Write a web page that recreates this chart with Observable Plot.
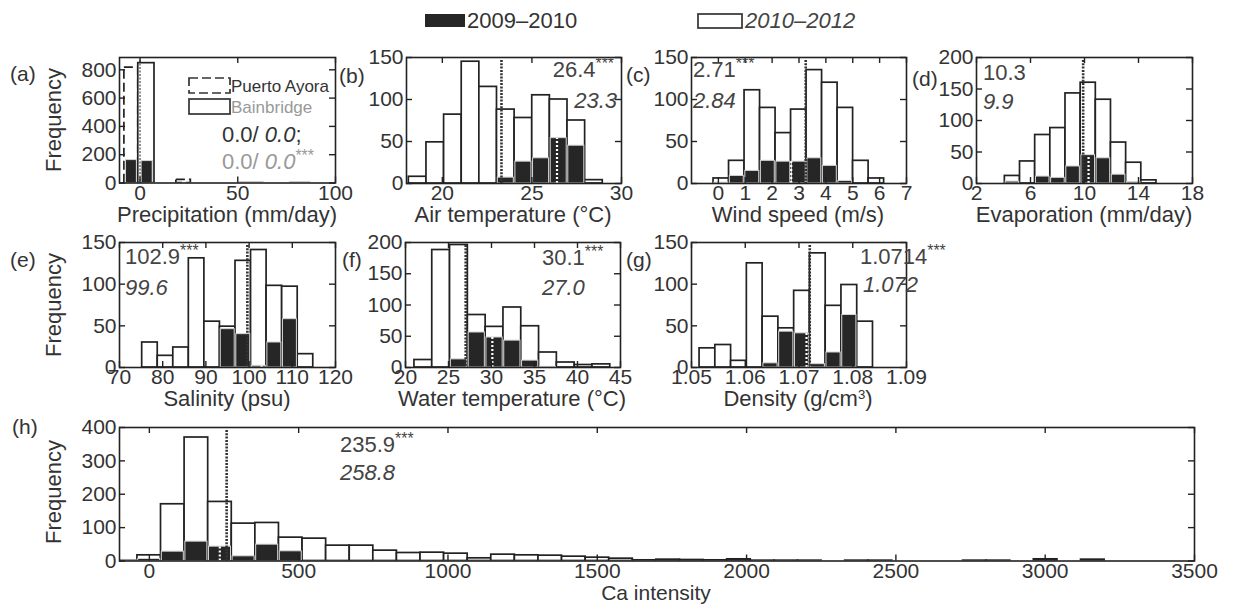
<!DOCTYPE html>
<html><head><meta charset="utf-8">
<script src="https://cdn.jsdelivr.net/npm/d3@7"></script>
<script src="https://cdn.jsdelivr.net/npm/@observablehq/plot@0.6"></script>
<style>
body{margin:0;background:#fff;font-family:"Liberation Sans",Arial,sans-serif;color:#333}
#wrap{position:relative;width:1236px;height:606px;overflow:hidden;background:#fff}
.t{position:absolute;white-space:nowrap;line-height:1}
.t sup{font-size:0.72em;vertical-align:0.5em;line-height:0}
</style></head><body><div id="wrap"></div><script>
// ---------------- DATA ----------------
const seriesNames = ["2009–2010", "2010–2012"];
const panelLetters = ["(a)", "(b)", "(c)", "(d)", "(e)", "(f)", "(g)", "(h)"];
const axisTitles = ["Precipitation (mm/day)", "Air temperature (°C)", "Wind speed (m/s)", "Evaporation (mm/day)",
  "Salinity (psu)", "Water temperature (°C)", "Density (g/cm<sup style='font-size:0.6em;vertical-align:0.5em'>3</sup>)", "Ca intensity"];
const stationNames = ["Puerto Ayora", "Bainbridge"];

// (a) precipitation
const precipAyoraLo = [-8.0, 18.6], precipAyoraHi = [-0.9, 26.0], precipAyoraCount = [816, 22];
const precipBainLo = [-0.9, 51, 77], precipBainHi = [7.4, 63, 87], precipBainCount = [847, 4, 4];
const precipFilledLo = [-7.6, 0.4], precipFilledHi = [-1.2, 6.9], precipFilledCount = [162, 155];
const precipMean = 0.0;
const precipTextAyora = ["0.0", "0.0"], precipTextBain = ["0.0", "0.0"];

// (b) air temperature
const airStart = 18.13, airWidth = 0.984;
const airOpen =   [8, 49, 82, 145, 115, 88, 78, 105, 100, 75, 4];
const airFilled = [0, 0, 0, 0, 0, 7, 26, 30, 54, 45, 0];
const airMeanFilled = 26.4, airMeanOpen = 23.3;

// (c) wind speed
const windStart = -0.18, windWidth = 0.577;
const windOpen =   [6, 27, 111, 90, 60, 88, 135, 120, 90, 27, 6];
const windFilled = [1, 9, 15, 27, 26, 26, 30, 21, 3, 0, 0];
const windMeanFilled = 2.71, windMeanOpen = 3.25;
const windText = ["2.71", "2.84"];

// (d) evaporation
const evapStart = 4.1, evapWidth = 1.123;
const evapOpen =   [12, 35, 77, 88, 143, 160, 133, 65, 33, 5];
const evapFilled = [3, 0, 11, 9, 27, 45, 40, 14, 2, 0];
const evapMeanFilled = 10.3, evapMeanOpen = 9.9;

// (e) salinity
const salStart = 75.25, salWidth = 3.6;
const salOpen =   [30, 14, 24, 131, 55, 49, 128, 141, 98, 97, 16];
const salFilled = [0, 0, 0, 0, 0, 46, 40, 2, 30, 58, 0];
const salMeanFilled = 102.9, salMeanOpen = 99.6;

// (f) water temperature
const wtStart = 21.04, wtWidth = 2.07;
const wtOpen =   [12, 188, 196, 84, 65, 96, 66, 24, 8, 4, 5];
const wtFilled = [0, 0, 13, 56, 48, 43, 11, 1, 0, 0, 0];
const wtMeanFilled = 30.1, wtMeanOpen = 27.0;

// (g) density
const denStart = 1.0515, denWidth = 0.002933;
const denOpen =   [23, 27, 8, 125, 61, 47, 92, 137, 74, 99, 55];
const denFilled = [0, 0, 0, 0, 5, 43, 41, 4, 18, 63, 0];
const denMeanFilled = 1.0714, denMeanOpen = 1.072;

// (h) Ca intensity
const caStart = -119, caWidth = 79;
const caOpen = [2, 17, 170, 370, 177, 112, 114, 70, 67, 46, 46, 31, 24, 25, 22, 8, 19, 17, 16, 13, 10, 7, 2, 4, 3, 2, 5, 1, 1, 1, 0, 1, 1, 0, 0, 0, 1, 1, 0, 5, 0, 4, 0, 0, 0, 0];
const caFilled = [2, 6, 28, 58, 43, 14, 49, 29];
const caMeanFilled = 235.9, caMeanOpen = 258.8;

// tick values
const ticksA = {x: [0, 50, 100], y: [0, 200, 400, 600, 800]};
const ticksB = {x: [20, 25, 30], y: [0, 50, 100, 150]};
const ticksC = {x: [0, 1, 2, 3, 4, 5, 6, 7], y: [0, 50, 100, 150]};
const ticksD = {x: [2, 6, 10, 14, 18], y: [0, 50, 100, 150, 200]};
const ticksE = {x: [70, 80, 90, 100, 110, 120], y: [0, 50, 100, 150]};
const ticksF = {x: [20, 25, 30, 35, 40, 45], y: [0, 50, 100, 150, 200]};
const ticksG = {x: [1.05, 1.06, 1.07, 1.08, 1.09], y: [0, 50, 100, 150]};
const ticksH = {x: [0, 500, 1000, 1500, 2000, 2500, 3000, 3500], y: [0, 100, 200, 300, 400]};

// ---------------- DRAWING ----------------
const FONT = '"Liberation Sans", Arial, sans-serif';
const INK = "#222", TXT = "#333";
const W = document.getElementById("wrap");

function txt(html, x, y, {anchor = "start", size = 21, color = TXT, italic = false, rotate = 0} = {}) {
  const d = document.createElement("div");
  d.className = "t";
  d.innerHTML = html;
  d.style.fontSize = size + "px";
  d.style.color = color;
  if (italic) d.style.fontStyle = "italic";
  d.style.left = x + "px";
  d.style.top = y + "px";
  const tx = anchor === "start" ? "0" : anchor === "end" ? "-100%" : "-50%";
  d.style.transform = `translate(${tx}, -50%)` + (rotate ? ` rotate(${rotate}deg)` : "");
  W.appendChild(d);
}
function swatch(x, y, w, h, fill, stroke, dash) {
  const ns = "http://www.w3.org/2000/svg";
  const s = document.createElementNS(ns, "svg");
  s.setAttribute("width", w + 4); s.setAttribute("height", h + 4);
  Object.assign(s.style, {position: "absolute", left: (x - 2) + "px", top: (y - 2) + "px"});
  const r = document.createElementNS(ns, "rect");
  r.setAttribute("x", 2); r.setAttribute("y", 2); r.setAttribute("width", w); r.setAttribute("height", h);
  r.setAttribute("fill", fill);
  if (stroke) { r.setAttribute("stroke", stroke); r.setAttribute("stroke-width", 1.7); }
  if (dash) r.setAttribute("stroke-dasharray", dash);
  s.appendChild(r);
  W.appendChild(s);
}
function bins(start, width, counts) {
  return counts.map((c, i) => ({x1: start + i * width, x2: start + (i + 1) * width, y1: 0, y2: c})).filter(d => d.y2 > 0);
}
function loHi(lo, hi, counts) {
  return counts.map((c, i) => ({x1: lo[i], x2: hi[i], y1: 0, y2: c}));
}
const openStyle = {x1: "x1", x2: "x2", y1: "y1", y2: "y2", fill: "white", stroke: INK, strokeWidth: 1.7, clip: true};
const fillStyle = {x1: "x1", x2: "x2", y1: "y1", y2: "y2", fill: "#262626", stroke: "#d4d4d4", strokeWidth: 1, insetLeft: 0.8, insetRight: 0.8, clip: true};

function histMarks(start, width, open, filled, meanFilled, meanOpen) {
  const i = Math.floor((meanFilled - start) / width);
  const top = filled[i] || 0;
  const marks = [
    Plot.rect(bins(start, width, open), openStyle),
    Plot.rect(bins(start, width, filled), fillStyle),
    Plot.ruleX([meanOpen], {stroke: "#333", strokeWidth: 2.6, strokeDasharray: "2,1.3", insetTop: 3})
  ];
  if (top > 0) marks.push(Plot.ruleX([{x: meanFilled, y1: 0, y2: top}], {x: "x", y1: "y1", y2: "y2", stroke: "white", strokeWidth: 2.2, strokeDasharray: "2,2"}));
  return marks;
}

const fmt = d => String(d);
function panel(L, R, T, B, xDomain, yDomain, ticks, marks, xFmt = fmt) {
  const mL = 50, mR = 10, mT = 10, mB = 30;
  const fw = R - L, fh = B - T, tk = 6;
  const svg = Plot.plot({
    width: fw + mL + mR, height: fh + mT + mB,
    marginLeft: mL, marginRight: mR, marginTop: mT, marginBottom: mB,
    x: {domain: xDomain}, y: {domain: yDomain},
    style: {overflow: "visible", fontFamily: FONT, fontSize: "21px", color: TXT, background: "transparent"},
    marks: [
      ...marks,
      Plot.frame({stroke: INK, strokeWidth: 1.6}),
      // inward tick marks on all four sides
      Plot.tickX(ticks.x, {stroke: INK, strokeWidth: 1.4, insetTop: fh - tk}),
      Plot.tickX(ticks.x, {stroke: INK, strokeWidth: 1.4, insetBottom: fh - tk}),
      Plot.tickY(ticks.y, {stroke: INK, strokeWidth: 1.4, insetRight: fw - tk}),
      Plot.tickY(ticks.y, {stroke: INK, strokeWidth: 1.4, insetLeft: fw - tk}),
      Plot.axisX({ticks: ticks.x, anchor: "bottom", tickSize: 0, tickPadding: 2, tickFormat: xFmt, label: null, fontSize: 21, fill: TXT}),
      Plot.axisY({ticks: ticks.y, anchor: "left", tickSize: 0, tickPadding: 3, tickFormat: fmt, label: null, fontSize: 21, fill: TXT})
    ]
  });
  svg.style.position = "absolute";
  svg.style.left = (L - mL) + "px";
  svg.style.top = (T - mT) + "px";
  W.appendChild(svg);
}

// (a)
panel(119, 335, 57, 182.5, [-10.5, 100], [0, 887], ticksA, [
  Plot.rect(loHi(precipAyoraLo, precipAyoraHi, precipAyoraCount), {...openStyle, strokeDasharray: "9,4"}),
  Plot.rect(loHi(precipBainLo, precipBainHi, precipBainCount).slice(0, 1), openStyle),
  Plot.rect(loHi(precipBainLo, precipBainHi, precipBainCount).slice(1), {...openStyle, stroke: "#c8c8c8"}),
  Plot.rect(loHi(precipFilledLo, precipFilledHi, precipFilledCount), fillStyle),
  Plot.ruleX([precipMean], {stroke: "#888", strokeWidth: 1.8, strokeDasharray: "2,1.5", insetTop: 3})
]);
// (b)
panel(406, 621, 57, 183, [18, 30], [0, 150], ticksB, histMarks(airStart, airWidth, airOpen, airFilled, airMeanFilled, airMeanOpen));
// (c)
panel(691, 906, 57, 183, [-1, 7], [0, 150], ticksC, histMarks(windStart, windWidth, windOpen, windFilled, windMeanFilled, windMeanOpen));
// (d)
panel(976, 1192, 57, 183, [2, 18], [0, 200], ticksD, histMarks(evapStart, evapWidth, evapOpen, evapFilled, evapMeanFilled, evapMeanOpen));
// (e)
panel(119, 335, 242, 367, [70, 120], [0, 150], ticksE, histMarks(salStart, salWidth, salOpen, salFilled, salMeanFilled, salMeanOpen));
// (f)
panel(405, 620, 242, 367, [20, 45], [0, 200], ticksF, histMarks(wtStart, wtWidth, wtOpen, wtFilled, wtMeanFilled, wtMeanOpen));
// (g)
panel(691, 906, 242, 367, [1.05, 1.09], [0, 150], ticksG, histMarks(denStart, denWidth, denOpen, denFilled, denMeanFilled, denMeanOpen), d3.format(".2f"));
// (h)
panel(119, 1194, 427, 560.5, [-100, 3500], [0, 400], ticksH, histMarks(caStart, caWidth, caOpen, caFilled, caMeanFilled, caMeanOpen));

// ---------- text ----------
const f1 = v => v.toFixed(1);
const star = "<sup>***</sup>";
// top legend
swatch(425, 14, 40, 13, "#262626");
txt(seriesNames[0], 467, 21, {size: 22});
swatch(698, 14, 44, 14, "#fff", "#333");
txt(seriesNames[1], 745, 21, {size: 22, italic: true, color: "#444"});

// panel letters
[[10, 73], [339, 75], [626, 74], [912, 78], [10, 259], [342, 259], [626, 259], [12, 426]].forEach(([x, y], i) =>
  txt(panelLetters[i], x, y, {size: 21}));
// Frequency labels
[[54, 120], [54, 305], [54, 492]].forEach(([x, y]) => txt("Frequency", x, y, {anchor: "middle", size: 22, rotate: -90}));
// axis titles
[[227, 215], [513, 215], [798, 215], [1084, 215], [227, 399], [512, 399], [798, 399], [656, 592]].forEach(([x, y], i) =>
  txt(axisTitles[i], x, y, {anchor: "middle", size: i === 7 ? 21 : 22}));

// (a) legend and annotation
swatch(189, 78, 41, 15, "#fff", "#333", "9,4");
txt(stationNames[0], 231, 86, {size: 17});
swatch(189, 99, 41, 15, "#fff", "#333");
txt(stationNames[1], 231, 107, {size: 17, color: "#999"});
txt(`${precipTextAyora[0]}/ <i>${precipTextAyora[1]}</i>;`, 222, 135, {size: 22, color: "#333"});
txt(`${precipTextBain[0]}/ <i>${precipTextBain[1]}</i>${star}`, 222, 162, {size: 22, color: "#999"});

// mean annotations
txt(f1(airMeanFilled) + star, 614, 70, {anchor: "end", size: 22, color: "#444"});
txt(f1(airMeanOpen), 617, 101, {anchor: "end", size: 22, italic: true, color: "#444"});
txt(windText[0] + star, 693, 70, {size: 22, color: "#444"});
txt(windText[1], 693, 101, {size: 22, italic: true, color: "#444"});
txt(f1(evapMeanFilled), 983, 73, {size: 22, color: "#444"});
txt(f1(evapMeanOpen), 983, 102, {size: 22, italic: true, color: "#444"});
txt(f1(salMeanFilled) + star, 125, 257, {size: 22, color: "#444"});
txt(f1(salMeanOpen), 125, 288, {size: 22, italic: true, color: "#444"});
txt(f1(wtMeanFilled) + star, 542, 258, {size: 22, color: "#444"});
txt(f1(wtMeanOpen), 542, 288, {size: 22, italic: true, color: "#444"});
txt(denMeanFilled.toFixed(4) + star, 860, 257, {size: 22, color: "#444"});
txt(denMeanOpen.toFixed(3), 863, 285, {size: 22, italic: true, color: "#444"});
txt(f1(caMeanFilled) + star, 340, 445, {size: 22, color: "#444"});
txt(f1(caMeanOpen), 340, 473, {size: 22, italic: true, color: "#444"});
</script></body></html>
